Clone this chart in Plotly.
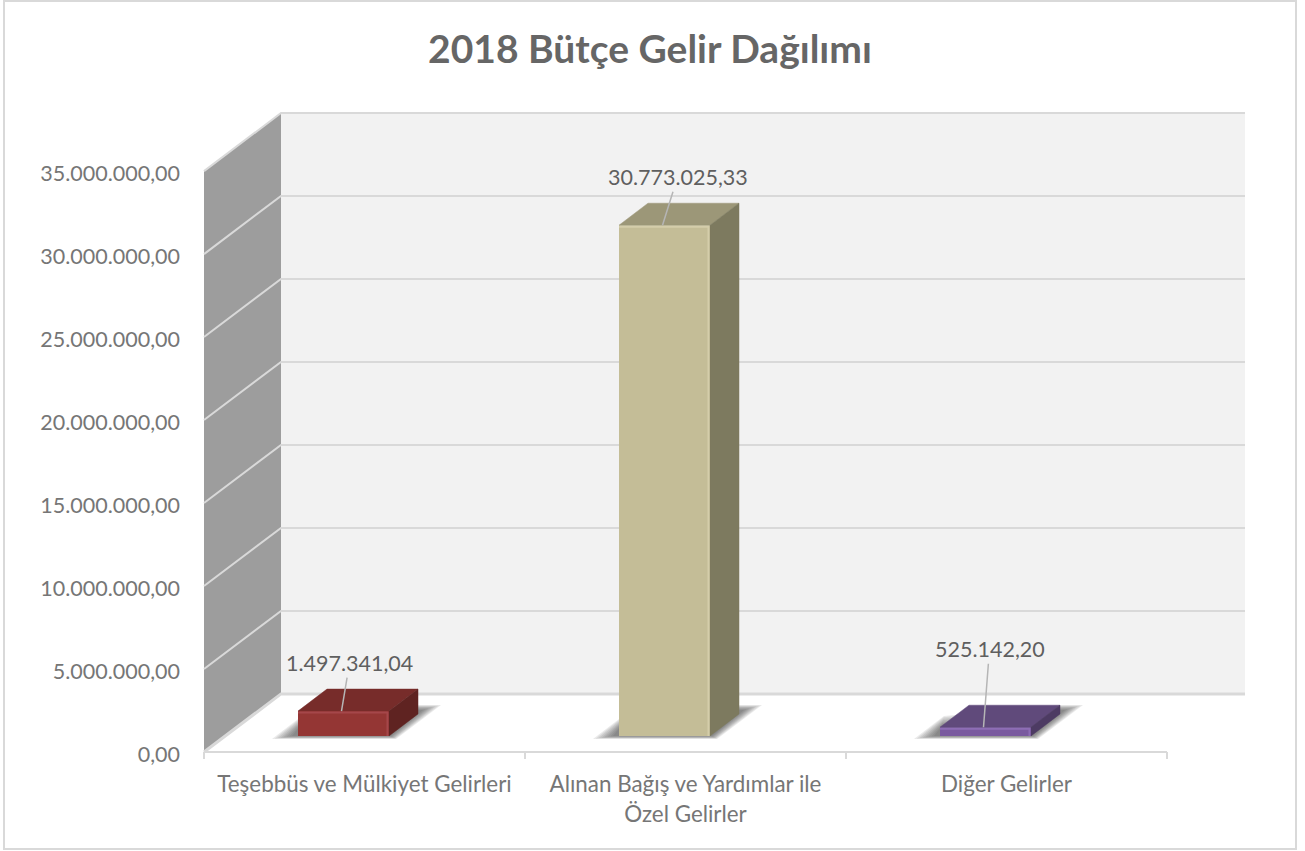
"""2018 budget income chart, Excel style fake 3D column look."""

import plotly.graph_objects as go

CATEGORIES = [
    "Teşebbüs ve Mülkiyet Gelirleri",
    "Alınan Bağış ve Yardımlar ile<br>Özel Gelirler",
    "Diğer Gelirler",
]
VALUES = [1497341.04, 30773025.33, 525142.20]
Y_TICKS = [0, 5000000, 10000000, 15000000, 20000000, 25000000, 30000000, 35000000]

FRONT_COLORS = ["#943634", "#c4bd97", "#7a5a9f"]
TOP_COLORS = ["#772c2a", "#9c9778", "#604a7b"]
SIDE_COLORS = ["#5f2321", "#7d7a5f", "#4d3b63"]
SHINE_COLORS = ["#a5474a", "#d4cdaa", "#8d6db5"]

LABEL_AX = [6, 13, 4]
LABEL_AY = [-48, -48, -78]

FONT = "Lato, Carlito, sans-serif"
COLOR_TEXT = "#767676"
COLOR_LABEL = "#5f5f5f"
COLOR_GRID = "#d9d9d9"

# one category is 321 px wide, 35M is 580 px high
PX_X = 1 / 321
PX_Y = 35000000 / 580

WALL_DX = 77 * PX_X
WALL_DY = 58 * PX_Y
X_FRONT = (-0.5, 2.5)
X_BACK = X_FRONT[1] + 78 * PX_X
Y_TOP = Y_TICKS[-1]

BAR_SHIFT = -21 * PX_X
BAR_BASE = 16 * PX_Y
BAR_WIDTH = 91 * PX_X
DEPTH_X = 29 * PX_X
DEPTH_Y = 22 * PX_Y


def poly(points):
    return "M " + " L ".join(f"{x},{y}" for x, y in points) + " Z"


shapes = []


def add_fill(points, color, opacity=1):
    shapes.append(dict(type="path", path=poly(points), fillcolor=color, opacity=opacity,
                       line_width=0, layer="below", xref="x", yref="y"))


def add_line(points, width=2):
    shapes.append(dict(type="path", path="M " + " L ".join(f"{x},{y}" for x, y in points),
                       line=dict(color=COLOR_GRID, width=width), layer="below",
                       xref="x", yref="y"))


# walls
add_fill([(X_FRONT[0], 0), (X_FRONT[0], Y_TOP),
          (X_FRONT[0] + WALL_DX, Y_TOP + WALL_DY), (X_FRONT[0] + WALL_DX, WALL_DY)], "#9d9d9d")
add_fill([(X_FRONT[0] + WALL_DX, WALL_DY), (X_FRONT[0] + WALL_DX, Y_TOP + WALL_DY),
          (X_BACK, Y_TOP + WALL_DY), (X_BACK, WALL_DY)], "#f2f2f2")

# gridlines run along the side wall then the back wall
for tick in Y_TICKS:
    add_line([(X_FRONT[0], tick), (X_FRONT[0] + WALL_DX, tick + WALL_DY), (X_BACK, tick + WALL_DY)],
             3 if tick == 0 else 2)

# axis line and tick marks
add_line([(X_FRONT[0], 0), (X_FRONT[1], 0)])
for i in range(len(CATEGORIES) + 1):
    add_line([(X_FRONT[0] + i, 0), (X_FRONT[0] + i, -7 * PX_Y)])

# soft shadows on the floor: nested polygons from a wide faint outline to a tight core
SHADOW_OUTER = [(-26, -3), (4, 20), (29, 31), (52, 31), (7, -3)]
SHADOW_CORE = [(-6, 0), (2, 10), (29, 26), (34, 26), (2, 0)]
SHADOW_STEPS = 8
for i in range(len(CATEGORIES)):
    left = i + BAR_SHIFT - BAR_WIDTH / 2
    right = i + BAR_SHIFT + BAR_WIDTH / 2
    anchors = [left, left, right, right, right]
    for step in range(SHADOW_STEPS):
        t = step / (SHADOW_STEPS - 1)
        points = []
        for a, o, c in zip(anchors, SHADOW_OUTER, SHADOW_CORE):
            dx = o[0] + (c[0] - o[0]) * t
            dy = o[1] + (c[1] - o[1]) * t
            points.append((a + dx * PX_X, BAR_BASE + dy * PX_Y))
        add_fill(points, "#404040", 0.11)

fig = go.Figure()

bar_x = [i + BAR_SHIFT for i in range(len(VALUES))]

fig.add_trace(go.Bar(
    x=bar_x,
    y=VALUES,
    base=BAR_BASE,
    width=BAR_WIDTH,
    marker=dict(color=FRONT_COLORS, line_width=0),
    hoverinfo="y",
    showlegend=False,
))

# top, side and highlight faces come from the same values as the bars
for cx, value, top, side, shine in zip(bar_x, VALUES, TOP_COLORS, SIDE_COLORS, SHINE_COLORS):
    left = cx - BAR_WIDTH / 2
    right = cx + BAR_WIDTH / 2
    high = BAR_BASE + value
    fig.add_trace(go.Scatter(
        x=[left, right, right + DEPTH_X, left + DEPTH_X, left],
        y=[high, high, high + DEPTH_Y, high + DEPTH_Y, high],
        mode="lines", fill="toself", fillcolor=top, line=dict(color=top, width=0.5),
        hoverinfo="skip", showlegend=False,
    ))
    fig.add_trace(go.Scatter(
        x=[right, right + DEPTH_X, right + DEPTH_X, right, right],
        y=[BAR_BASE, BAR_BASE + DEPTH_Y, high + DEPTH_Y, high, BAR_BASE],
        mode="lines", fill="toself", fillcolor=side, line=dict(color=side, width=0.5),
        hoverinfo="skip", showlegend=False,
    ))
    fig.add_trace(go.Scatter(
        x=[left, right - 1.5 * PX_X, right - 1.5 * PX_X],
        y=[high - 1.5 * PX_Y, high - 1.5 * PX_Y, BAR_BASE],
        mode="lines", line=dict(color=shine, width=2),
        hoverinfo="skip", showlegend=False,
    ))

annotations = []
for cx, value, ax, ay in zip(bar_x, VALUES, LABEL_AX, LABEL_AY):
    text = f"{value:,.2f}".replace(",", "#").replace(".", ",").replace("#", ".")
    annotations.append(dict(
        x=cx - 2 * PX_X, y=BAR_BASE + value, xref="x", yref="y",
        text=text, ax=ax + 2, ay=ay,
        showarrow=True, arrowhead=0, arrowwidth=1.5, arrowcolor="#b5b5b5",
        font=dict(family=FONT, size=21.5, color=COLOR_LABEL),
    ))

fig.update_layout(
    width=1305,
    height=851,
    autosize=False,
    margin=dict(l=200, r=55, t=108, b=87, pad=0),
    paper_bgcolor="white",
    plot_bgcolor="white",
    separators=",.",
    font=dict(family=FONT, size=20, color=COLOR_TEXT),
    title=dict(
        text="<b>2018 Bütçe Gelir Dağılımı</b>",
        x=650 / 1305, xanchor="center", y=1 - 49 / 851, yanchor="middle",
        font=dict(family=FONT, size=39, color="#666666"),
    ),
    xaxis=dict(
        range=[X_FRONT[0] - 4 * PX_X, X_BACK + 5 * PX_X],
        tickvals=list(range(len(CATEGORIES))),
        ticktext=CATEGORIES,
        tickangle=0,
        tickfont=dict(size=22.4),
        showgrid=False, zeroline=False, showline=False, ticks="",
        ticklabelstandoff=5,
    ),
    yaxis=dict(
        range=[-12 * PX_Y, Y_TOP + WALL_DY + 5 * PX_Y],
        tickvals=Y_TICKS,
        tickformat=",.2f",
        tickfont=dict(size=21.5),
        showgrid=False, zeroline=False, showline=False, ticks="",
        ticklabelstandoff=19,
        ticklabelshift=2,
    ),
    shapes=shapes + [dict(
        type="rect", xref="paper", yref="paper",
        x0=-196 / 1050, x1=(1296 - 200) / 1050,
        y0=(764 - 849) / 656, y1=(764 - 1) / 656,
        line=dict(color="#d9d9d9", width=2), fillcolor="rgba(0,0,0,0)", layer="below",
    )],
    annotations=annotations,
)

fig.write_html("out.html", config={"displayModeBar": False},
               post_script="document.body.style.margin='0';")
